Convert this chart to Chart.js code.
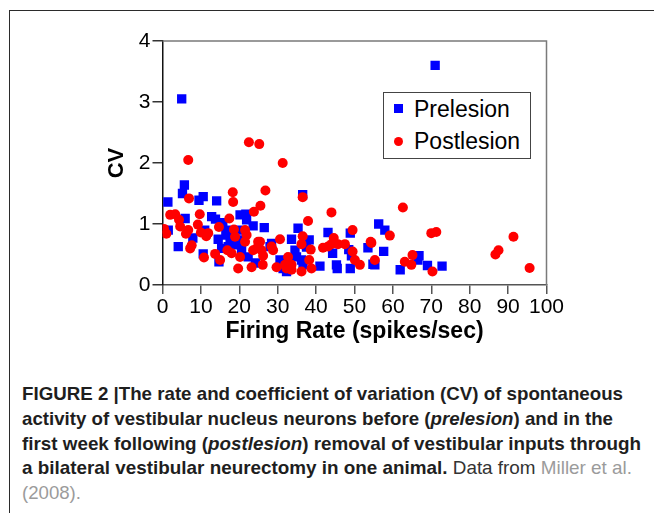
<!DOCTYPE html>
<html><head><meta charset="utf-8">
<script src="https://cdn.jsdelivr.net/npm/chart.js@4.4.1/dist/chart.umd.min.js"></script>
<style>
html,body{margin:0;padding:0;background:#fff;}
body{width:654px;height:513px;position:relative;overflow:hidden;font-family:"Liberation Sans",Arial,sans-serif;}
#frame{position:absolute;left:9px;top:10px;width:700px;height:600px;border-top:1.5px solid #2b2b2b;border-left:1.5px solid #2b2b2b;}
#wrap{position:absolute;left:0;top:0;width:654px;height:360px;}
#legend{position:absolute;left:383px;top:92px;width:148px;height:67px;border:1.5px solid #444;box-sizing:border-box;background:#fff;}
.li{position:absolute;left:0;width:146px;height:30px;font-size:23px;line-height:30px;color:#000;}
.li .mk{position:absolute;top:50%;}
.li .tx{position:absolute;left:30px;top:0;}
.cap{position:absolute;left:22px;height:22px;line-height:22px;white-space:nowrap;font-family:"Liberation Sans Narrow","Liberation Sans",Arial,sans-serif;font-weight:bold;font-size:18.5px;color:#1e1e1e;transform-origin:0 50%;}
.cap .rg{font-weight:normal;color:#333;}
.cap .gr{font-weight:normal;color:#9b9b9b;}
</style>
</head><body>
<div id="frame"></div>
<div id="wrap"><canvas id="c" width="654" height="360"></canvas></div>
<div id="legend"></div>
<div class="cap" id="l1">FIGURE 2 |The rate and coefficient of variation (CV) of spontaneous</div>
<div class="cap" id="l2">activity of vestibular nucleus neurons before (<i>prelesion</i>) and in the</div>
<div class="cap" id="l3">first week following (<i>postlesion</i>) removal of vestibular inputs through</div>
<div class="cap" id="l4">a bilateral vestibular neurectomy in one animal.<span class="rg"> Data from </span><span class="gr">Miller et al.</span></div>
<div class="cap" id="l5"><span class="gr">(2008).</span></div>
<script>
// ---- data ----
const seriesNames = ["Prelesion", "Postlesion"];
const xTickValues = [0,10,20,30,40,50,60,70,80,90,100];
const yTickValues = [0,1,2,3,4];
const xTitle = "Firing Rate (spikes/sec)";
const yTitle = "CV";

const preRate = [5,71,5.7,5.2,1.4,9.5,10.6,14.1,36.5,12.8,13.8,5.9,1.5,7.9,4.1,11,15.7,14.5,16.7,16.5,17.6,17.1,15.4,10.6,14.7,20.2,21.7,21.9,23.6,19.7,20.6,19.3,20.6,22.3,26.5,35.3,43.1,48.9,56.3,57.9,33.6,38.2,53.5,48.5,44.3,28.4,28,30.6,31.4,32.3,34.9,36.2,36.6,41,45.3,45.5,48.9,49.2,55.3,57.6,54.8,61.9,66.8,66.5,69,72.8,34.5,37.5,24.2];
const preCV   = [3.05,3.6,1.64,1.50,1.36,1.39,1.45,1.38,1.48,1.12,1.08,1.09,0.90,0.77,0.63,0.90,1.02,0.75,0.90,0.82,0.78,0.63,0.60,0.51,0.38,1.15,1.16,1.07,0.97,0.90,0.74,0.66,0.58,0.46,0.94,0.93,0.86,0.85,1.00,0.90,0.75,0.74,0.61,0.58,0.52,0.68,0.63,0.41,0.27,0.22,0.46,0.41,0.33,0.31,0.33,0.27,0.27,0.48,0.33,0.55,0.34,0.25,0.48,0.41,0.32,0.31,0.57,0.62,0.36];

const postRate = [6.7,6.9,18.3,18.4,26.8,25.5,23.8,9.7,2.0,3.3,4.3,4.6,0.4,1.0,9.2,6.7,6.1,7.6,7.2,10,11.4,11.9,14.7,17.4,18.6,18.9,13.7,15,10.8,21.5,21.9,21.5,16.9,18,20.2,23.6,24.5,24.9,23.2,19.7,22.5,25.2,31.3,44,37.9,36.5,49.5,36.5,30.6,44.6,36.2,38.6,41.8,43.1,44,45.7,47.5,54.2,49.5,28.4,28.8,25.4,25.8,26.2,26.1,32.7,33.6,33.6,32.3,29.7,31.9,38.2,38.8,36.2,50.1,51.4,55.3,62.6,59.2,54.4,70,71.3,91.4,87.5,86.7,63.1,64.8,65.1,70.3,95.6];
const postCV   = [2.05,1.42,1.52,1.36,1.55,1.30,1.20,1.16,1.15,1.16,1.07,0.96,0.92,0.84,0.99,0.90,0.84,0.65,0.60,0.86,0.80,0.85,0.95,1.09,0.91,0.79,0.51,0.41,0.45,0.90,0.82,0.71,0.57,0.52,0.46,0.57,0.60,0.71,0.29,0.27,2.34,2.31,2.00,1.19,1.05,1.44,0.90,0.80,0.75,0.77,0.67,0.58,0.61,0.63,0.67,0.67,0.67,0.71,0.55,0.63,0.57,0.71,0.57,0.48,0.33,0.46,0.33,0.25,0.27,0.29,0.33,0.41,0.27,0.22,0.41,0.33,0.41,1.27,0.81,0.69,0.85,0.87,0.79,0.57,0.50,0.38,0.33,0.49,0.22,0.28];

const toPoints = (xs, ys) => xs.map((x, i) => ({x: x, y: ys[i]}));

const PLOT_LEFT = 162.5, PLOT_RIGHT = 546.5, PLOT_TOP = 41, PLOT_BOTTOM = 285, CANVAS_H = 360;

const boxPlugin = {
  id: 'box',
  afterDraw(chart) {
    const {ctx, chartArea: a} = chart;
    ctx.save();
    ctx.strokeStyle = '#7a7a7a';
    ctx.lineWidth = 1.5;
    ctx.beginPath();
    ctx.moveTo(a.left, a.top);
    ctx.lineTo(a.right, a.top);
    ctx.lineTo(a.right, a.bottom);
    ctx.stroke();
    ctx.restore();
  }
};

const chart = new Chart(document.getElementById('c'), {
  type: 'scatter',
  data: {
    datasets: [
      { label: seriesNames[0], data: toPoints(preRate, preCV), pointStyle: 'rect',
        pointRadius: 6.6, pointHoverRadius: 6.6, backgroundColor: 'rgb(0,0,255)', borderWidth: 0, order: 1 },
      { label: seriesNames[1], data: toPoints(postRate, postCV), pointStyle: 'circle',
        pointRadius: 5, pointHoverRadius: 5, backgroundColor: 'rgb(255,0,0)', borderWidth: 0, order: 0 }
    ]
  },
  options: {
    responsive: false,
    animation: false,
    events: [],
    layout: { padding: { left: 0, top: PLOT_TOP, right: 654 - PLOT_RIGHT, bottom: 0 } },
    plugins: { legend: { display: false }, tooltip: { enabled: false } },
    scales: {
      x: {
        type: 'linear', min: 0, max: 100,
        afterBuildTicks: s => { s.ticks = xTickValues.map(v => ({value: v})); },
        afterFit: s => { s.height = CANVAS_H - PLOT_BOTTOM; },
        ticks: { color: '#000', font: { family: 'Liberation Sans', size: 21 }, padding: 1, maxRotation: 0, autoSkip: false },
        grid: { drawOnChartArea: false, drawTicks: true, tickLength: 9, color: '#555', lineWidth: 1.5 },
        border: { display: true, color: '#555', width: 1.5 },
        title: { display: true, text: xTitle, color: '#000', font: { family: 'Liberation Sans', size: 23, weight: 'bold' }, padding: { top: 0, bottom: 15 } }
      },
      y: {
        type: 'linear', min: 0, max: 4,
        afterBuildTicks: s => { s.ticks = yTickValues.map(v => ({value: v})); },
        afterFit: s => { s.width = PLOT_LEFT; },
        ticks: { color: '#000', font: { family: 'Liberation Sans', size: 21 }, padding: 2 },
        grid: { drawOnChartArea: false, drawTicks: true, tickLength: 10, color: '#333', lineWidth: 1.5 },
        border: { display: true, color: '#111', width: 1.5 },
        title: { display: true, text: yTitle, color: '#000', font: { family: 'Liberation Sans', size: 22, weight: 'bold' }, padding: { top: 104, bottom: 0 } }
      }
    }
  },
  plugins: [boxPlugin]
});

// HTML legend built from the chart's datasets
const legend = document.getElementById('legend');
chart.data.datasets.forEach((ds, i) => {
  const row = document.createElement('div');
  row.className = 'li';
  row.style.top = (i === 0 ? 0.5 : 33) + 'px';
  const mk = document.createElement('div');
  mk.className = 'mk';
  if (ds.pointStyle === 'rect') {
    mk.style.cssText = 'left:10px;width:9px;height:9px;margin-top:-4.5px;background:' + ds.backgroundColor;
  } else {
    mk.style.cssText = 'left:10px;width:9px;height:9px;margin-top:-4.5px;border-radius:50%;background:' + ds.backgroundColor;
  }
  const tx = document.createElement('span');
  tx.className = 'tx';
  tx.textContent = ds.label;
  row.appendChild(mk); row.appendChild(tx);
  legend.appendChild(row);
});

// caption lines
const capTargets = [601, 591, 619, 610, 59];
function layoutCaption() {
  for (let i = 0; i < 5; i++) {
    const el = document.getElementById('l' + (i + 1));
    el.style.top = (394 + 24.8 * i - 11) + 'px';
    el.style.transform = 'none';
    const w = el.getBoundingClientRect().width;
    if (w > 0) el.style.transform = 'scaleX(' + (capTargets[i] / w) + ')';
  }
}
layoutCaption();
if (document.fonts && document.fonts.ready) document.fonts.ready.then(layoutCaption);
</script>
</body></html>
